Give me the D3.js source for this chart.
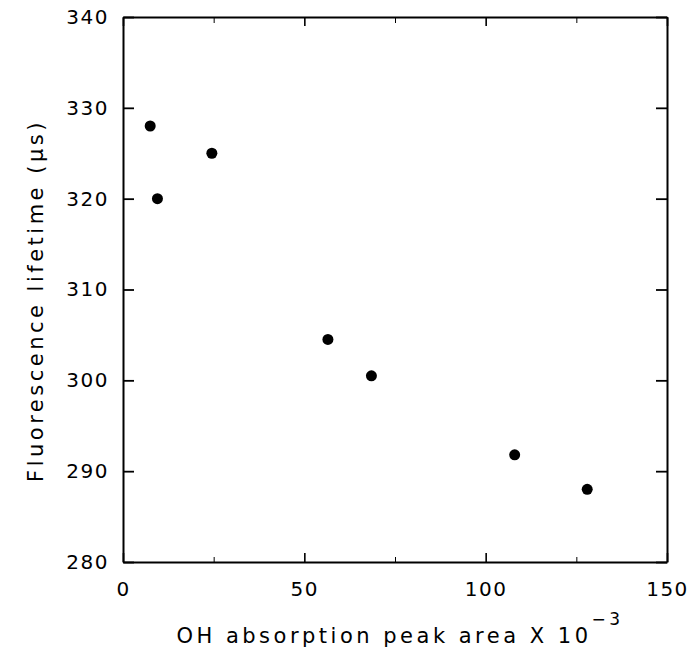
<!DOCTYPE html>
<html>
<head>
<meta charset="utf-8">
<script src="https://cdn.jsdelivr.net/npm/d3@7"></script>
<style>
  body { margin: 0; background: #fff; }
  svg text { font-family: "DejaVu Sans", sans-serif; fill: #000; }
  .tick text { font-size: 20px; letter-spacing: 1.5px; }
  .domain { stroke-width: 2px; }
</style>
</head>
<body>
<div id="chart"></div>
<script>
// data
const peakArea = [7.5, 9.5, 24.5, 56.5, 68.5, 108, 128];
const lifetime = [328, 320, 325, 304.5, 300.5, 291.8, 288];

const xMajor = [0, 50, 100, 150];
const xMinor = [25, 75, 125];
const yTicks = [280, 290, 300, 310, 320, 330, 340];

const width = 697, height = 653;
const margin = { top: 17, right: 30, bottom: 91, left: 123 };
const w = width - margin.left - margin.right;
const h = height - margin.top - margin.bottom;

const svg = d3.select("#chart")
  .append("svg")
  .attr("width", width)
  .attr("height", height)
  .append("g")
  .attr("transform", `translate(${margin.left},${margin.top})`);

// scales
const x = d3.scaleLinear().domain([0, 150]).range([0, w]);
const y = d3.scaleLinear().domain([280, 340]).range([h, 0]);

// bottom axis, ticks point inward
svg.append("g")
  .attr("transform", `translate(0,${h})`)
  .call(d3.axisBottom(x).tickValues(xMajor).tickSizeInner(-9).tickSizeOuter(0).tickPadding(20))
  .call(g => g.selectAll(".tick line").attr("stroke-width", 1.6));

// minor ticks bottom + top
svg.append("g")
  .attr("transform", `translate(0,${h})`)
  .call(d3.axisBottom(x).tickValues(xMinor).tickSizeInner(-5).tickSizeOuter(0).tickFormat(""))
  .call(g => g.select(".domain").remove());
svg.append("g")
  .call(d3.axisTop(x).tickValues(xMinor).tickSizeInner(-6).tickSizeOuter(0).tickFormat(""))
  .call(g => g.select(".domain").remove());

// top axis
svg.append("g")
  .call(d3.axisTop(x).tickValues(xMajor).tickSizeInner(-9).tickSizeOuter(0).tickFormat(""))
  .call(g => g.selectAll(".tick line").attr("stroke-width", 1.6));

// left axis
svg.append("g")
  .call(d3.axisLeft(y).tickValues(yTicks).tickSizeInner(-11).tickSizeOuter(0).tickPadding(14))
  .call(g => g.selectAll(".tick line").attr("stroke-width", 1.8));

// right axis
svg.append("g")
  .attr("transform", `translate(${w},0)`)
  .call(d3.axisRight(y).tickValues(yTicks).tickSizeInner(-11).tickSizeOuter(0).tickFormat(""))
  .call(g => g.selectAll(".tick line").attr("stroke-width", 1.8));

// points
svg.selectAll(".dot")
  .data(peakArea)
  .enter()
  .append("circle")
  .attr("class", "dot")
  .attr("cx", d => x(d))
  .attr("cy", (d, i) => y(lifetime[i]))
  .attr("r", 5.5)
  .attr("fill", "#000");

// axis titles
const xt = svg.append("text")
  .attr("x", w / 2 + 5)
  .attr("y", h + 81)
  .attr("text-anchor", "middle")
  .style("font-size", "21px")
  .style("letter-spacing", "3.5px");
xt.append("tspan").text("OH absorption peak area X 10");
xt.append("tspan").attr("dy", -18).style("font-size", "17px").text("\u22123");

svg.append("text")
  .attr("transform", `translate(${-80},${h / 2 + 11}) rotate(-90)`)
  .attr("text-anchor", "middle")
  .style("font-size", "21px")
  .style("letter-spacing", "3.5px")
  .text("Fluorescence lifetime (\u03bcs)");
</script>
</body>
</html>
